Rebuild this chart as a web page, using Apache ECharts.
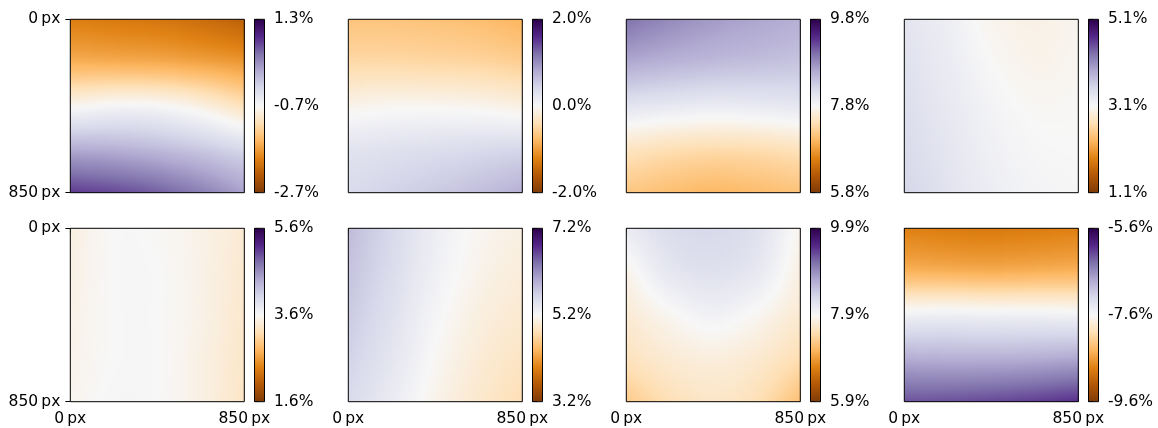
<!DOCTYPE html>
<html>
<head>
<meta charset="utf-8">
<script src="https://cdn.jsdelivr.net/npm/echarts@6/dist/echarts.min.js"></script>
<style>
html,body{margin:0;padding:0;background:#fff;}
#chart{width:1158px;height:428px;}
</style>
</head>
<body>
<div id="chart"></div>
<script>
// ---- data (values in %) ----
// sample positions (px) of the field values, columns = x, rows = y (0 at top)
const xSamples = [0, 212.5, 425, 637.5, 850];
const ySamples = [0, 212.5, 425, 637.5, 850];
const axisTicks = [0, 850];

// row 1
const field_r1c1 = [
  [-1.94, -1.98, -2.02, -2.10, -2.22],
  [-1.54, -1.56, -1.58, -1.64, -1.72],
  [-0.74, -0.66, -0.68, -0.82, -1.06],
  [ 0.10,  0.06, -0.02, -0.14, -0.30],
  [ 0.82,  0.74,  0.62,  0.42,  0.18]
];
const field_r1c2 = [
  [-0.68, -0.68, -0.70, -0.74, -0.82],
  [-0.46, -0.46, -0.48, -0.50, -0.56],
  [-0.08, -0.04, -0.04, -0.06, -0.12],
  [ 0.26,  0.30,  0.34,  0.38,  0.42],
  [ 0.38,  0.46,  0.54,  0.64,  0.76]
];
const field_r1c3 = [
  [9.00, 8.84, 8.72, 8.64, 8.56],
  [8.60, 8.52, 8.46, 8.42, 8.38],
  [8.06, 8.00, 7.96, 7.98, 8.02],
  [7.48, 7.40, 7.36, 7.38, 7.44],
  [7.14, 7.06, 7.00, 7.04, 7.10]
];
const field_r1c4 = [
  [3.36, 3.22, 3.04, 3.00, 3.04],
  [3.40, 3.26, 3.10, 3.02, 3.06],
  [3.44, 3.30, 3.16, 3.08, 3.09],
  [3.48, 3.34, 3.20, 3.12, 3.10],
  [3.54, 3.38, 3.24, 3.16, 3.12]
];
// row 2
const field_r2c1 = [
  [3.46, 3.60, 3.58, 3.50, 3.38],
  [3.48, 3.60, 3.60, 3.50, 3.36],
  [3.50, 3.60, 3.60, 3.50, 3.34],
  [3.52, 3.60, 3.60, 3.48, 3.32],
  [3.54, 3.62, 3.60, 3.48, 3.30]
];
const field_r2c2 = [
  [5.86, 5.60, 5.34, 5.16, 5.08],
  [5.80, 5.56, 5.30, 5.12, 5.02],
  [5.74, 5.50, 5.24, 5.06, 4.96],
  [5.66, 5.44, 5.18, 5.00, 4.88],
  [5.58, 5.36, 5.12, 4.94, 4.80]
];
const field_r2c3 = [
  [8.08, 8.26, 8.30, 8.20, 7.84],
  [7.82, 8.12, 8.20, 8.10, 7.76],
  [7.68, 7.86, 7.98, 7.86, 7.66],
  [7.54, 7.68, 7.74, 7.66, 7.48],
  [7.28, 7.50, 7.60, 7.50, 7.18]
];
const field_r2c4 = [
  [-8.82, -8.86, -8.88, -8.86, -8.82],
  [-8.42, -8.44, -8.46, -8.44, -8.42],
  [-7.50, -7.48, -7.50, -7.50, -7.52],
  [-6.82, -6.84, -6.84, -6.82, -6.78],
  [-6.22, -6.20, -6.16, -6.10, -6.02]
];

// colour-bar limits (%), panel order: row 1 c1..c4, row 2 c1..c4
const cbarMin = [-2.7, -2.0, 5.8, 1.1, 1.6, 3.2, 5.9, -9.6];
const cbarMax = [ 1.3,  2.0, 9.8, 5.1, 5.6, 7.2, 9.9, -5.6];
const cbarInterval = 2.0;

const fields = [field_r1c1, field_r1c2, field_r1c3, field_r1c4,
                field_r2c1, field_r2c2, field_r2c3, field_r2c4];

// ---- PuOr colormap ----
const PUOR = ['#7f3b08','#b35806','#e08214','#fdb863','#fee0b6','#f7f7f7',
              '#d8daeb','#b2abd2','#8073ac','#542788','#2d004b'];
const PUOR_RGB = PUOR.map(h => [parseInt(h.slice(1,3),16), parseInt(h.slice(3,5),16), parseInt(h.slice(5,7),16)]);
function cmap(t) {
  t = Math.max(0, Math.min(1, t));
  const f = t * 10;
  let i = Math.floor(f);
  if (i >= 10) i = 9;
  const u = f - i;
  const a = PUOR_RGB[i], b = PUOR_RGB[i + 1];
  const r = Math.round(a[0] + (b[0] - a[0]) * u);
  const g = Math.round(a[1] + (b[1] - a[1]) * u);
  const bl = Math.round(a[2] + (b[2] - a[2]) * u);
  return 'rgb(' + r + ',' + g + ',' + bl + ')';
}

// smooth (Catmull-Rom) shading between the sampled values, used only for rendering
function cr(p0, p1, p2, p3, t) {
  return 0.5 * (2 * p1 + (-p0 + p2) * t + (2 * p0 - 5 * p1 + 4 * p2 - p3) * t * t +
                (-p0 + 3 * p1 - 3 * p2 + p3) * t * t * t);
}
function pick(arr, i) {
  const n = arr.length;
  if (i < 0) return 2 * arr[0] - arr[1];
  if (i >= n) return 2 * arr[n - 1] - arr[n - 2];
  return arr[i];
}
function shade(field, gx, gy) {
  const nx = field[0].length, ny = field.length;
  let i = Math.min(Math.floor(gx), nx - 2), j = Math.min(Math.floor(gy), ny - 2);
  const tx = gx - i, ty = gy - j;
  const col = [];
  for (let r = j - 1; r <= j + 2; r++) {
    let rowArr;
    if (r < 0) rowArr = field[0].map((v, c) => 2 * v - field[1][c]);
    else if (r >= ny) rowArr = field[ny - 1].map((v, c) => 2 * v - field[ny - 2][c]);
    else rowArr = field[r];
    col.push(cr(pick(rowArr, i - 1), pick(rowArr, i), pick(rowArr, i + 1), pick(rowArr, i + 2), tx));
  }
  return cr(col[0], col[1], col[2], col[3], ty);
}

// ---- layout ----
const FONT = 'DejaVu Sans';
const FS = 15.5;
const boxLeft0 = 70.3, colStep = 278, boxW = 174, boxH = 173.4;
const rowTop = [19.3, 228.3];
const cbarOffset = 184.2, cbarW = 10;
const TICK_LEN = 4.9;
const pxLabel = v => v + '\u2009px';

const grids = [], xAxes = [], yAxes = [], series = [];

fields.forEach((field, k) => {
  const row = Math.floor(k / 4), col = k % 4;
  const left = boxLeft0 + colStep * col;
  const top = rowTop[row];
  const vmin = cbarMin[k], vmax = cbarMax[k];
  const showX = row === 1, showY = col === 0;

  // heat map grid
  const gi = grids.length;
  grids.push({left: left, top: top, width: boxW, height: boxH, show: true,
              borderColor: '#000', borderWidth: 1, backgroundColor: 'transparent', z: 10});
  xAxes.push({gridIndex: gi, type: 'value', min: axisTicks[0], max: axisTicks[1],
              interval: axisTicks[1] - axisTicks[0], position: 'bottom',
              axisLine: {show: false}, splitLine: {show: false},
              axisTick: {show: showX, length: TICK_LEN, lineStyle: {color: '#000', width: 1}},
              axisLabel: {show: showX, formatter: pxLabel, margin: 9, color: '#000',
                          fontSize: FS, fontFamily: FONT}});
  yAxes.push({gridIndex: gi, type: 'value', min: axisTicks[0], max: axisTicks[1],
              interval: axisTicks[1] - axisTicks[0], inverse: true, position: 'left',
              axisLine: {show: false}, splitLine: {show: false},
              axisTick: {show: showY, length: TICK_LEN, lineStyle: {color: '#000', width: 1}},
              axisLabel: {show: showY, formatter: pxLabel, margin: 10, color: '#000',
                          fontSize: FS, fontFamily: FONT}});

  const cells = [];
  for (let j = 0; j < ySamples.length - 1; j++) {
    for (let i = 0; i < xSamples.length - 1; i++) {
      cells.push([xSamples[i], ySamples[j], xSamples[i + 1], ySamples[j + 1], i, j]);
    }
  }
  series.push({
    type: 'custom', xAxisIndex: gi, yAxisIndex: gi, clip: true, silent: true,
    data: cells,
    renderItem: function (params, api) {
      const p0 = api.coord([api.value(0), api.value(1)]);
      const p1 = api.coord([api.value(2), api.value(3)]);
      const ci = api.value(4), cj = api.value(5);
      const x0 = Math.min(p0[0], p1[0]), x1 = Math.max(p0[0], p1[0]);
      const y0 = Math.min(p0[1], p1[1]), y1 = Math.max(p0[1], p1[1]);
      const N = 22, K = 12;
      const sw = (x1 - x0) / N, h = y1 - y0;
      const children = [];
      for (let s = 0; s < N; s++) {
        const gx = ci + (s + 0.5) / N;
        const stops = [];
        for (let q = 0; q <= K; q++) {
          const w = q / K;
          const v = shade(field, gx, cj + w);
          stops.push({offset: w, color: cmap((v - vmin) / (vmax - vmin))});
        }
        children.push({
          type: 'rect',
          shape: {x: x0 + s * sw, y: y0, width: sw + 0.8, height: h + 0.8},
          style: {fill: new echarts.graphic.LinearGradient(0, 0, 0, 1, stops), stroke: null}
        });
      }
      return {type: 'group', children: children};
    }
  });

  // colour bar grid
  const cbi = grids.length;
  grids.push({left: left + cbarOffset, top: top, width: cbarW, height: boxH, show: true,
              borderColor: '#000', borderWidth: 1, backgroundColor: 'transparent', z: 10});
  xAxes.push({gridIndex: cbi, type: 'value', min: 0, max: 1, show: false});
  yAxes.push({gridIndex: cbi, type: 'value', min: vmin, max: vmax, interval: cbarInterval,
              position: 'right', axisLine: {show: false}, splitLine: {show: false},
              axisTick: {show: true, length: TICK_LEN, lineStyle: {color: '#000', width: 1}},
              axisLabel: {show: true, margin: 9.5, color: '#000', fontSize: FS, fontFamily: FONT,
                          formatter: v => v.toFixed(1) + '%'}});
  series.push({
    type: 'custom', xAxisIndex: cbi, yAxisIndex: cbi, clip: true, silent: true,
    data: [[0, vmax, 1, vmin]],
    renderItem: function (params, api) {
      const p0 = api.coord([api.value(0), api.value(1)]);
      const p1 = api.coord([api.value(2), api.value(3)]);
      const stops = PUOR.map((c, i) => ({offset: 1 - i / 10, color: c})).reverse();
      return {
        type: 'rect',
        shape: {x: p0[0], y: p0[1], width: p1[0] - p0[0], height: p1[1] - p0[1]},
        style: {fill: new echarts.graphic.LinearGradient(0, 0, 0, 1, stops), stroke: null}
      };
    }
  });
});

const chart = echarts.init(document.getElementById('chart'), null, {renderer: 'canvas'});
chart.setOption({
  animation: false,
  backgroundColor: '#fff',
  grid: grids, xAxis: xAxes, yAxis: yAxes, series: series
});
</script>
</body>
</html>
